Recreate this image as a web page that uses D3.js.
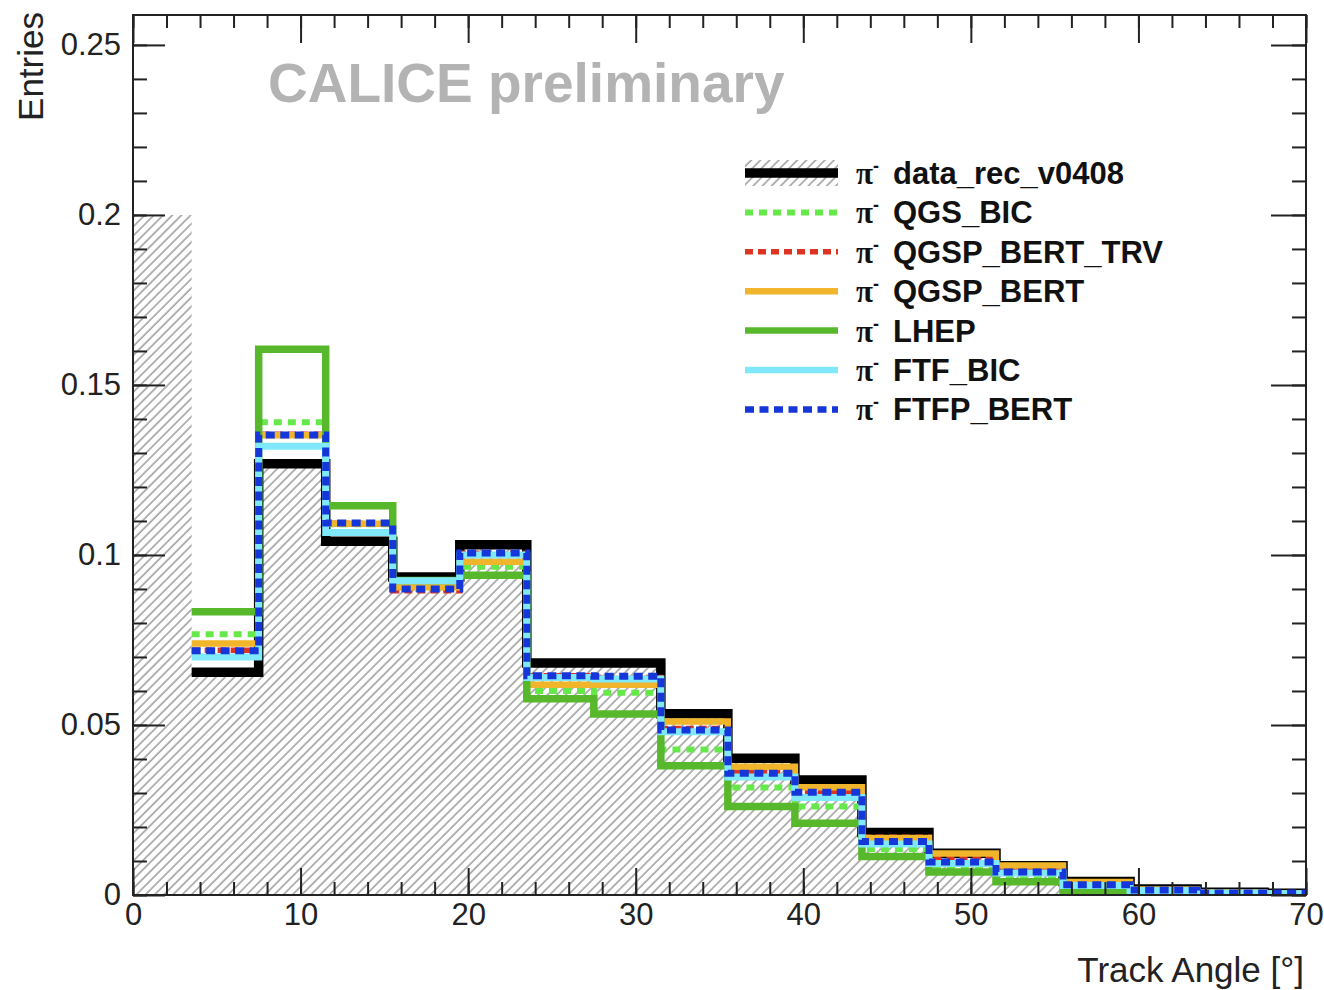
<!DOCTYPE html>
<html>
<head>
<meta charset="utf-8">
<script src="https://cdn.jsdelivr.net/npm/d3@7"></script>
<style>
  html, body { margin: 0; padding: 0; background: #fff; }
  svg { display: block; }
  text { font-family: "Liberation Sans", Arial, Helvetica, sans-serif; }
</style>
</head>
<body>
<svg id="chart" width="1324" height="990"></svg>
<script>
// Bin edges of the track-angle histogram (degrees, 4° bins)
const binEdges = [-0.5, 3.5, 7.5, 11.5, 15.5, 19.5, 23.5, 27.5, 31.5, 35.5,
                  39.5, 43.5, 47.5, 51.5, 55.5, 59.5, 63.5, 67.5, 71.5];

// Data: the first bin is only shown as hatched fill
const dataRec = [0.200, 0.0655, 0.1268, 0.1040, 0.0935, 0.1030, 0.0682, 0.0682, 0.0533,
                 0.0402, 0.0338, 0.0184, 0.0123, 0.0086, 0.0040, 0.0018, 0.0008, 0.0005];

// Simulations, starting from the 3.5° edge
const qgsBic      = [0.0767, 0.1390, 0.1090, 0.0900, 0.0965, 0.0600, 0.0595, 0.0428, 0.0316,
                     0.0260, 0.0135, 0.0082, 0.0050, 0.0025, 0.0010, 0.0005, 0.0003];
const qgspBertTrv = [0.0720, 0.1355, 0.1093, 0.0895, 0.1005, 0.0645, 0.0640, 0.0490, 0.0362,
                     0.0305, 0.0170, 0.0110, 0.0078, 0.0035, 0.0016, 0.0007, 0.0005];
const qgspBert    = [0.0740, 0.1352, 0.1092, 0.0905, 0.0980, 0.0618, 0.0618, 0.0510, 0.0377,
                     0.0317, 0.0168, 0.0122, 0.0087, 0.0038, 0.0016, 0.0007, 0.0005];
const lhep        = [0.0833, 0.1605, 0.1145, 0.0925, 0.0940, 0.0577, 0.0532, 0.0380, 0.0260,
                     0.0211, 0.0113, 0.0068, 0.0039, 0.0012, 0.0003, 0.0001, 0.0001];
const ftfBic      = [0.0700, 0.1320, 0.1066, 0.0924, 0.1000, 0.0640, 0.0635, 0.0480, 0.0347,
                     0.0287, 0.0150, 0.0093, 0.0065, 0.0028, 0.0013, 0.0006, 0.0004];
const ftfpBert    = [0.0718, 0.1353, 0.1094, 0.0900, 0.1006, 0.0645, 0.0643, 0.0485, 0.0358,
                     0.0302, 0.0157, 0.0097, 0.0068, 0.0030, 0.0015, 0.0006, 0.0006];

const legendNames = ["data_rec_v0408", "QGS_BIC", "QGSP_BERT_TRV", "QGSP_BERT", "LHEP", "FTF_BIC", "FTFP_BERT"];

const yMajorTicks = [0, 0.05, 0.1, 0.15, 0.2, 0.25];
const yTickLabels = ["0", "0.05", "0.1", "0.15", "0.2", "0.25"];
const xMajorTicks = [0, 10, 20, 30, 40, 50, 60, 70];

// ---- layout ----
const frame = { left: 133, right: 1306, top: 15, bottom: 895 };
const x = d3.scaleLinear().domain([0, 70]).range([frame.left, frame.right]);
const y = d3.scaleLinear().domain([0, 0.2588]).range([frame.bottom, frame.top]);

const svg = d3.select("#chart");
const defs = svg.append("defs");

defs.append("clipPath").attr("id", "plotClip")
  .append("rect")
  .attr("x", frame.left).attr("y", frame.top)
  .attr("width", frame.right - frame.left).attr("height", frame.bottom - frame.top);

// diagonal hatch used for the data histogram
const hatch = defs.append("pattern")
  .attr("id", "hatch")
  .attr("patternUnits", "userSpaceOnUse")
  .attr("width", 6.5).attr("height", 20)
  .attr("patternTransform", "rotate(45)");
hatch.append("line")
  .attr("x1", 1).attr("y1", 0).attr("x2", 1).attr("y2", 20)
  .attr("stroke", "#8c8c8c").attr("stroke-width", 1.3);

// ---- series styles (drawing order: first is at the bottom) ----
const series = [
  { name: legendNames[0], values: dataRec.slice(1), color: "#000000", width: 9.5, dash: null },
  { name: legendNames[1], values: qgsBic,      color: "#66e84a", width: 6,   dash: "8,6" },
  { name: legendNames[2], values: qgspBertTrv, color: "#dd3322", width: 5.5, dash: "8,5" },
  { name: legendNames[3], values: qgspBert,    color: "#f0b52a", width: 6.5, dash: null },
  { name: legendNames[4], values: lhep,        color: "#58b82c", width: 7.5, dash: null },
  { name: legendNames[5], values: ftfBic,      color: "#7fe8fa", width: 7,   dash: null },
  { name: legendNames[6], values: ftfpBert,    color: "#1536d8", width: 7,   dash: "9,5.5" }
];

const plot = svg.append("g").attr("clip-path", "url(#plotClip)");

// hatched fill under the data histogram, including its first bin
const fillPts = dataRec.map((v, i) => [binEdges[i], v]);
fillPts.push([binEdges[binEdges.length - 1], dataRec[dataRec.length - 1]]);
const area = d3.area()
  .x(d => x(d[0])).y0(y(0)).y1(d => y(d[1]))
  .curve(d3.curveStepAfter);
plot.append("path")
  .attr("d", area(fillPts))
  .attr("fill", "url(#hatch)");

// step outlines, starting at the 3.5° edge
const modelEdges = binEdges.slice(1);
const step = d3.line().x(d => x(d[0])).y(d => y(d[1])).curve(d3.curveStepAfter);
series.forEach(s => {
  const pts = s.values.map((v, i) => [modelEdges[i], v]);
  pts.push([modelEdges[modelEdges.length - 1], s.values[s.values.length - 1]]);
  plot.append("path")
    .attr("d", step(pts))
    .attr("fill", "none")
    .attr("stroke", s.color)
    .attr("stroke-width", s.width)
    .attr("stroke-linejoin", "miter")
    .attr("stroke-linecap", "butt")
    .attr("stroke-dasharray", s.dash);
});

// ---- axes ----
const axisColor = "#222";
function styleAxis(g) {
  g.select(".domain").remove();
  g.selectAll(".tick line").attr("stroke", axisColor).attr("stroke-width", 2);
  g.selectAll(".tick text").attr("fill", "#222").attr("font-size", 31)
    .attr("font-family", "Liberation Sans, Arial, sans-serif");
}
const yMinor = d3.range(0, 0.2501, 0.01);
const xMinor = d3.range(0, 70.01, 2);

// minor ticks
svg.append("g").attr("transform", `translate(${frame.left},0)`)
  .call(d3.axisLeft(y).tickValues(yMinor).tickSize(-14).tickFormat("")).call(styleAxis);
svg.append("g").attr("transform", `translate(${frame.right},0)`)
  .call(d3.axisRight(y).tickValues(yMinor).tickSize(-14).tickFormat("")).call(styleAxis);
svg.append("g").attr("transform", `translate(0,${frame.bottom})`)
  .call(d3.axisBottom(x).tickValues(xMinor).tickSize(-13).tickFormat("")).call(styleAxis);
svg.append("g").attr("transform", `translate(0,${frame.top})`)
  .call(d3.axisTop(x).tickValues(xMinor).tickSize(-13).tickFormat("")).call(styleAxis);

// major ticks with labels
svg.append("g").attr("transform", `translate(${frame.left},0)`)
  .call(d3.axisLeft(y).tickValues(yMajorTicks).tickSize(-32).tickPadding(12)
    .tickFormat((d, i) => yTickLabels[i])).call(styleAxis);
svg.append("g").attr("transform", `translate(${frame.right},0)`)
  .call(d3.axisRight(y).tickValues(yMajorTicks).tickSize(-35).tickFormat("")).call(styleAxis);
svg.append("g").attr("transform", `translate(0,${frame.bottom})`)
  .call(d3.axisBottom(x).tickValues(xMajorTicks).tickSize(-27).tickPadding(8)
    .tickFormat(d3.format("d"))).call(styleAxis);
svg.append("g").attr("transform", `translate(0,${frame.top})`)
  .call(d3.axisTop(x).tickValues(xMajorTicks).tickSize(-28).tickFormat("")).call(styleAxis);

// frame
svg.append("rect")
  .attr("x", frame.left).attr("y", frame.top)
  .attr("width", frame.right - frame.left).attr("height", frame.bottom - frame.top)
  .attr("fill", "none").attr("stroke", axisColor).attr("stroke-width", 2);

// axis titles
svg.append("text")
  .attr("transform", "translate(43,12) rotate(-90)")
  .attr("text-anchor", "end")
  .attr("font-size", 35).attr("fill", "#222")
  .text("Entries");
svg.append("text")
  .attr("x", 1304).attr("y", 982)
  .attr("text-anchor", "end")
  .attr("font-size", 35).attr("fill", "#222")
  .text("Track Angle [°]");

// experiment label
svg.append("text")
  .attr("x", 268).attr("y", 102)
  .attr("font-size", 55).attr("font-weight", "bold").attr("fill", "#b3b3b3")
  .text("CALICE preliminary");

// ---- legend ----
const legend = svg.append("g");
const lgX0 = 745, lgX1 = 838, lgRow0 = 173, lgStep = 39.4;
series.forEach((s, i) => {
  const cy = lgRow0 + i * lgStep;
  if (i === 0) {
    legend.append("rect")
      .attr("x", lgX0).attr("y", cy - 13).attr("width", lgX1 - lgX0).attr("height", 26)
      .attr("fill", "url(#hatch)");
  }
  legend.append("line")
    .attr("x1", lgX0).attr("x2", lgX1).attr("y1", cy).attr("y2", cy)
    .attr("stroke", s.color)
    .attr("stroke-width", i === 0 ? 9.5 : Math.min(s.width, 6.5))
    .attr("stroke-dasharray", s.dash);
  const t = legend.append("text")
    .attr("x", 856).attr("y", cy + 11)
    .attr("font-size", 31).attr("font-weight", "bold").attr("fill", "#111");
  t.append("tspan").attr("font-family", "Liberation Serif, DejaVu Serif, serif").text("π");
  t.append("tspan").attr("font-size", 18).attr("dy", -12).text("-");
  t.append("tspan").attr("x", 893).attr("dy", 12).text(s.name);
});
</script>
</body>
</html>
